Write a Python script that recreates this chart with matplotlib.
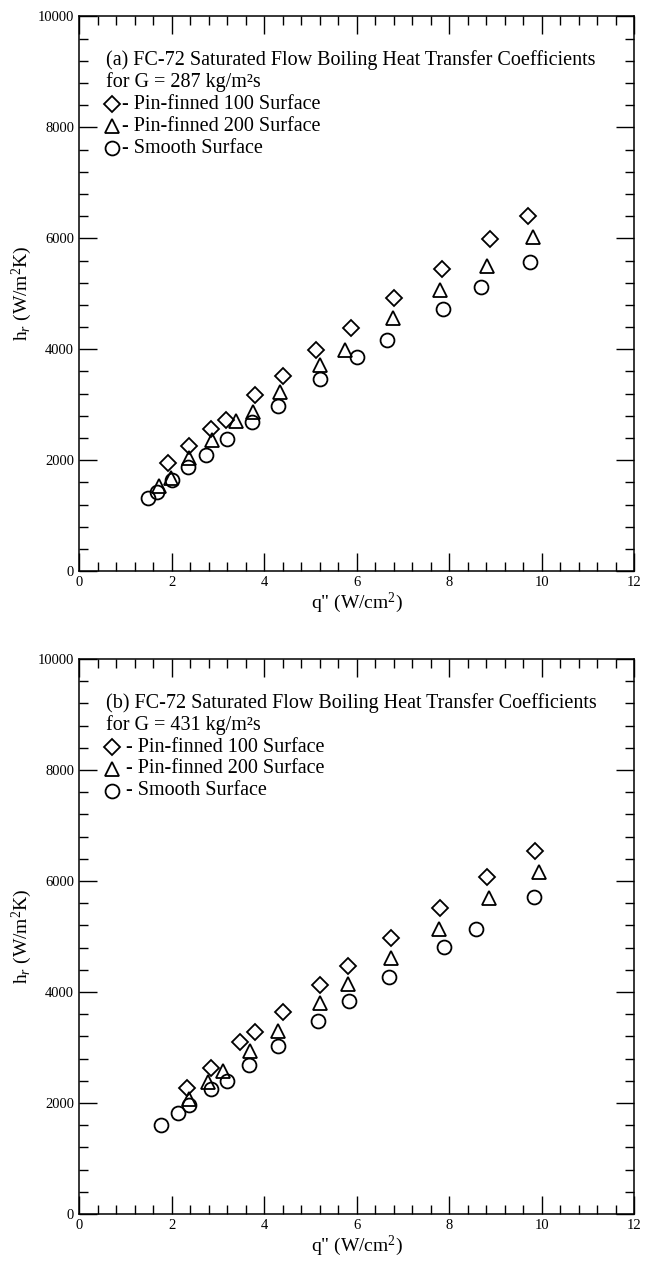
import matplotlib.pyplot as plt
from matplotlib.ticker import MultipleLocator

plt.rcParams['font.family'] = ['Liberation Serif', 'DejaVu Serif']
plt.rcParams['mathtext.fontset'] = 'custom'
plt.rcParams['mathtext.rm'] = 'Liberation Serif'
plt.rcParams['mathtext.it'] = 'Liberation Serif:italic'

# (a) G = 287 kg/m2s
a_pin100_q = [1.93, 2.38, 2.85, 3.17, 3.80, 4.41, 5.13, 5.87, 6.80, 7.84, 8.88, 9.70]
a_pin100_h = [1944, 2250, 2557, 2726, 3177, 3520, 3989, 4383, 4922, 5439, 5993, 6395]
a_pin200_q = [1.72, 1.98, 2.38, 2.87, 3.39, 3.76, 4.34, 5.20, 5.74, 6.79, 7.80, 8.83, 9.82]
a_pin200_h = [1540, 1680, 2034, 2365, 2708, 2876, 3225, 3724, 3995, 4561, 5072, 5505, 6023]
a_smooth_q = [1.49, 1.69, 2.00, 2.36, 2.74, 3.21, 3.75, 4.30, 5.20, 6.00, 6.65, 7.86, 8.70, 9.74]
a_smooth_h = [1315, 1430, 1640, 1883, 2094, 2383, 2684, 2978, 3460, 3862, 4170, 4729, 5120, 5578]

# (b) G = 431 kg/m2s
b_pin100_q = [2.34, 2.85, 3.47, 3.81, 4.41, 5.21, 5.82, 6.75, 7.80, 8.82, 9.85]
b_pin100_h = [2276, 2625, 3105, 3274, 3645, 4130, 4468, 4979, 5519, 6078, 6546]
b_pin200_q = [2.38, 2.79, 3.12, 3.70, 4.30, 5.20, 5.81, 6.74, 7.78, 8.86, 9.95]
b_pin200_h = [2066, 2384, 2582, 2943, 3303, 3810, 4138, 4619, 5135, 5688, 6168]
b_smooth_q = [1.78, 2.14, 2.38, 2.86, 3.19, 3.68, 4.30, 5.17, 5.84, 6.71, 7.89, 8.59, 9.84]
b_smooth_h = [1604, 1814, 1964, 2252, 2396, 2685, 3027, 3483, 3830, 4276, 4817, 5141, 5706]

titles = ["(a) FC-72 Saturated Flow Boiling Heat Transfer Coefficients",
          "(b) FC-72 Saturated Flow Boiling Heat Transfer Coefficients"]
subtitles = ["for G = 287 kg/m²s", "for G = 431 kg/m²s"]
labels = ["- Pin-finned 100 Surface", "- Pin-finned 200 Surface", "- Smooth Surface"]
markers = ['D', '^', 'o']
msizes = [7.8, 10, 10]

fig = plt.figure(figsize=(6.53, 12.61), dpi=100)
ax_a = fig.add_axes([0.121, 0.547, 0.850, 0.440])
ax_b = fig.add_axes([0.121, 0.0373, 0.850, 0.4401])

datasets = [
    [(a_pin100_q, a_pin100_h), (a_pin200_q, a_pin200_h), (a_smooth_q, a_smooth_h)],
    [(b_pin100_q, b_pin100_h), (b_pin200_q, b_pin200_h), (b_smooth_q, b_smooth_h)],
]
# gap between legend marker and its text (panel b has a bit more space)
text_x = [0.92, 1.02]

for k, ax in enumerate([ax_a, ax_b]):
    for (q, h), m, ms in zip(datasets[k], markers, msizes):
        ax.plot(q, h, linestyle='none', marker=m, markersize=ms,
                markerfacecolor='none', markeredgecolor='black', markeredgewidth=1.3)

    ax.set_xlim(0, 12)
    ax.set_ylim(0, 10000)
    ax.xaxis.set_major_locator(MultipleLocator(2))
    ax.xaxis.set_minor_locator(MultipleLocator(0.4))
    ax.yaxis.set_major_locator(MultipleLocator(2000))
    ax.yaxis.set_minor_locator(MultipleLocator(400))
    ax.tick_params(which='both', direction='in', top=True, right=True, labelsize=10.5, width=1.0)
    ax.tick_params(which='major', length=13)
    ax.tick_params(which='minor', length=6.5)
    for s in ax.spines.values():
        s.set_linewidth(1.1)

    ax.set_xlabel('q" (W/cm$^2$)', fontsize=14, labelpad=1)
    ax.set_ylabel('h$_r$ (W/m$^2$K)', fontsize=14, labelpad=3)

    # legend block inside the plot
    ax.text(0.58, 9207, titles[k], fontsize=14.5, va='center', ha='left')
    ax.text(0.58, 8810, subtitles[k], fontsize=14.5, va='center', ha='left')
    for i, (m, ms) in enumerate(zip(markers, msizes)):
        yy = 8414 - i * 396
        ax.plot([0.72], [yy], linestyle='none', marker=m, markersize=ms,
                markerfacecolor='none', markeredgecolor='black', markeredgewidth=1.3)
        ax.text(text_x[k], yy, labels[i], fontsize=14.5, va='center', ha='left')

fig.savefig('out.png', dpi=100)
